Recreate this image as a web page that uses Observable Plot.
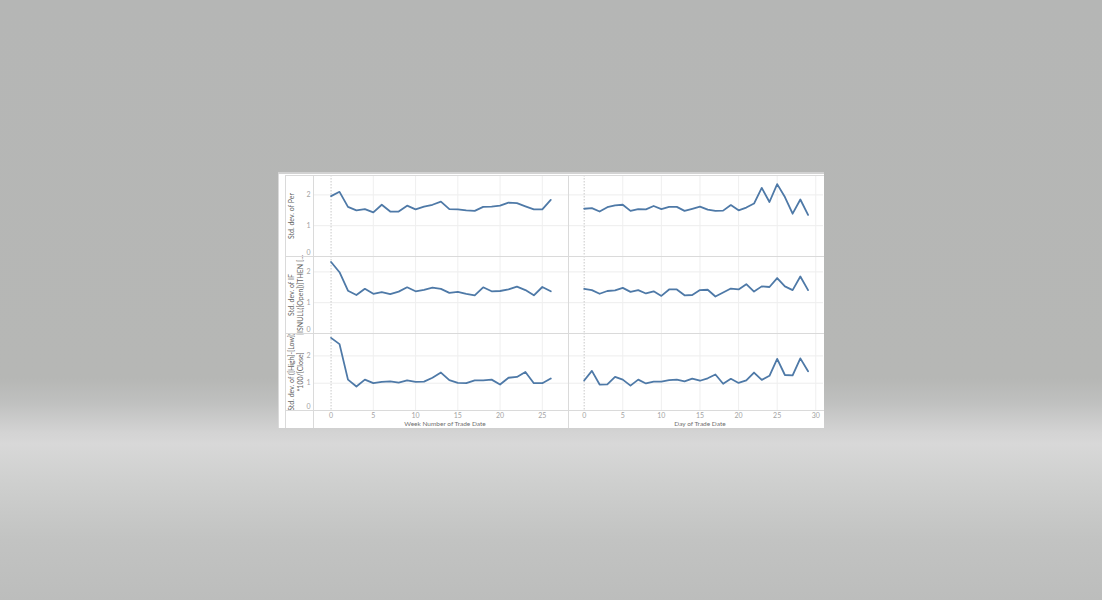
<!DOCTYPE html>
<html><head><meta charset="utf-8">
<script src="https://cdn.jsdelivr.net/npm/d3@7"></script>
<script src="https://cdn.jsdelivr.net/npm/@observablehq/plot@0.6"></script>
<style>
html,body{margin:0;padding:0}
body{width:1102px;height:600px;overflow:hidden;position:relative;
background:linear-gradient(to bottom,#b5b6b5 0%,#b6b7b5 63%,#bfc0bf 67%,#d3d3d3 72%,#d8d8d8 74%,#cfd0cf 80%,#c2c3c2 90%,#bcbdbc 100%);
font-family:Lato,"Open Sans",sans-serif}
#card{position:absolute;left:278px;top:172px;width:546px;height:256px;background:#fff;overflow:hidden;
border-top:2px solid #d2d2d2;box-sizing:border-box}
.ln{position:absolute;background:#dadada}
.cell{position:absolute}
.xt{position:absolute;font-size:6.5px;line-height:6.5px;height:7px;color:#6f6f6f;white-space:nowrap;transform:translateX(-50%)}
</style></head><body>
<div id="card"></div>
<script>
// x categories
const weeks = [0,1,2,3,4,5,6,7,8,9,10,11,12,13,14,15,16,17,18,19,20,21,22,23,24,25,26];
const days = [0,1,2,3,4,5,6,7,8,9,10,11,12,13,14,15,16,17,18,19,20,21,22,23,24,25,26,27,28,29];
const weekTicks = [0,5,10,15,20,25];
const dayTicks = [0,5,10,15,20,25,30];

// row titles
const titlePer = ["Std. dev. of Per"];
const titleOpen = ["Std. dev. of IF", "[ISNULL([Open])]THEN [..."];
const titleHL = ["Std. dev. of ([High]-[Low])", "*100/[Close]"];
const xTitleLeft = "Week Number of Trade Date";
const xTitleRight = "Day of Trade Date";

// series values (left column by week, right column by day)
const perWeek = [1.96,2.10,1.61,1.50,1.54,1.43,1.68,1.46,1.46,1.65,1.53,1.62,1.68,1.78,1.54,1.53,1.50,1.48,1.61,1.62,1.65,1.75,1.73,1.63,1.53,1.53,1.84];
const perDay = [1.55,1.57,1.46,1.60,1.66,1.68,1.48,1.54,1.53,1.64,1.54,1.61,1.61,1.48,1.55,1.62,1.52,1.48,1.49,1.67,1.50,1.59,1.72,2.23,1.77,2.35,1.93,1.39,1.85,1.35];
const openWeek = [2.32,1.99,1.39,1.25,1.45,1.29,1.34,1.28,1.36,1.50,1.37,1.42,1.49,1.45,1.32,1.35,1.29,1.24,1.50,1.37,1.38,1.43,1.52,1.41,1.24,1.51,1.37];
const openDay = [1.45,1.41,1.29,1.38,1.40,1.48,1.35,1.41,1.30,1.37,1.22,1.43,1.43,1.24,1.25,1.41,1.42,1.20,1.33,1.46,1.43,1.60,1.36,1.53,1.51,1.80,1.53,1.41,1.85,1.41];
const hlWeek = [2.66,2.43,1.13,0.88,1.13,1.00,1.05,1.07,1.02,1.10,1.05,1.06,1.20,1.39,1.11,1.01,1.00,1.10,1.10,1.13,0.95,1.20,1.23,1.41,1.00,1.00,1.17];
const hlDay = [1.10,1.45,0.95,0.96,1.23,1.13,0.91,1.13,0.99,1.06,1.06,1.11,1.13,1.07,1.17,1.09,1.18,1.32,0.98,1.16,1.01,1.10,1.39,1.12,1.27,1.89,1.30,1.29,1.91,1.44];

const card = document.getElementById("card");
const LINE = "#4e79a7";
const TICK = "#a3a3a3";
const axisW = 28, paneW = 255;
const rowSpec = [
  {top: 1, h: 81, yMax: 2.63, titles: titlePer, left: perWeek, right: perDay},
  {top: 82, h: 77, yMax: 2.5, titles: titleOpen, left: openWeek, right: openDay},
  {top: 159, h: 77, yMax: 2.82, titles: titleHL, left: hlWeek, right: hlDay}
];
const cols = [
  {x: 7, xs: weeks, domain: [-2.08, 28.1], ticks: weekTicks, key: "left"},
  {x: 290, xs: days, domain: [-2.03, 31.0], ticks: dayTicks, key: "right"}
];

function cell(row, col, isLeft, isBottom) {
  const vals = row[col.key];
  const data = col.xs.map((x, i) => ({x, y: vals[i]}));
  const ml = isLeft ? axisW : 0, mb = isBottom ? 11 : 0;
  const marks = [
    Plot.gridY([1, 2], {stroke: "#ededed", strokeOpacity: 1}),
    Plot.gridX(col.ticks.filter(t => t !== 0), {stroke: "#efefef", strokeOpacity: 1}),
    Plot.ruleX([0], {stroke: "#c9c9c9", strokeDasharray: "1.5,1.5"}),
    Plot.lineY(data, {x: "x", y: "y", stroke: LINE, strokeWidth: 1.8, strokeLinejoin: "round"})
  ];
  if (isLeft) {
    marks.push(Plot.axisY([1, 2], {tickSize: 0, tickPadding: 3, color: TICK, label: null}));
    marks.push(Plot.axisY([0], {tickSize: 0, tickPadding: 3, color: TICK, label: null, dy: -4}));
    row.titles.forEach((t, i) => marks.push(
      Plot.text([t], {text: d => d, frameAnchor: "left", dx: -21.5 + i * 9, rotate: -90,
        fill: "#626262", fontSize: 7, textAnchor: "middle"})
    ));
  }
  if (isBottom) {
    marks.push(Plot.axisX(col.ticks, {tickSize: 0, tickPadding: 2.5, color: TICK, label: null}));
  }
  const svg = Plot.plot({
    width: ml + paneW, height: row.h + mb,
    marginLeft: ml, marginRight: 0, marginTop: 0, marginBottom: mb,
    x: isBottom ? {domain: col.domain} : {domain: col.domain, axis: null},
    y: isLeft ? {domain: [0, row.yMax]} : {domain: [0, row.yMax], axis: null},
    style: {fontSize: "7px", fontFamily: "Lato, 'Open Sans', sans-serif", background: "transparent", overflow: "visible"},
    marks
  });
  const wrap = document.createElement("div");
  wrap.className = "cell";
  wrap.style.left = col.x + "px";
  wrap.style.top = row.top + "px";
  wrap.appendChild(svg);
  card.appendChild(wrap);
}

rowSpec.forEach((row, r) => {
  cols.forEach((col, c) => cell(row, col, c === 0, r === rowSpec.length - 1));
});

function line(l, t, w, h) {
  const d = document.createElement("div");
  d.className = "ln";
  d.style.left = l + "px"; d.style.top = t + "px";
  d.style.width = w + "px"; d.style.height = h + "px";
  card.appendChild(d);
}
line(7, 1, 539, 1);     // inner top
line(7, 1, 1, 254);     // inner left
line(35, 1, 1, 254);    // axis / pane
line(290, 1, 1, 254);   // column divider
line(7, 82, 539, 1);    // row divider
line(7, 159, 539, 1);   // row divider
line(7, 236, 539, 1);   // x axis
line(0, 0, 1, 256);     // card edge

[[167, xTitleLeft], [422, xTitleRight]].forEach(([x, t]) => {
  const d = document.createElement("div");
  d.className = "xt";
  d.style.left = x + "px"; d.style.top = "247px";
  d.textContent = t;
  card.appendChild(d);
});
</script></body></html>
